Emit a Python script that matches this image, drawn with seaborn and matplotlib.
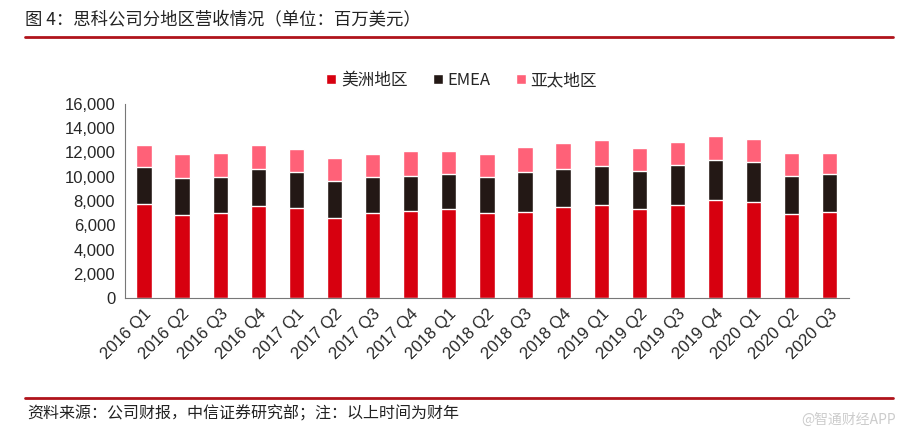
import matplotlib
matplotlib.use("Agg")
from matplotlib import pyplot as plt
import pandas as pd
import seaborn as sns

quarters = ["2016 Q1", "2016 Q2", "2016 Q3", "2016 Q4",
            "2017 Q1", "2017 Q2", "2017 Q3", "2017 Q4",
            "2018 Q1", "2018 Q2", "2018 Q3", "2018 Q4",
            "2019 Q1", "2019 Q2", "2019 Q3", "2019 Q4",
            "2020 Q1", "2020 Q2", "2020 Q3"]
americas = [7790, 6880, 7040, 7620, 7400, 6630, 7010, 7180, 7320, 6990,
            7130, 7540, 7700, 7320, 7650, 8120, 7950, 6960, 7070]
emea = [3010, 3050, 2940, 3050, 2970, 3020, 2940, 2860, 2880, 2990,
        3260, 3100, 3190, 3190, 3320, 3240, 3240, 3110, 3160]
apjc = [1850, 1950, 1980, 1920, 1950, 1870, 1960, 2060, 1900, 1870,
        2040, 2140, 2140, 1890, 1930, 2030, 1930, 1890, 1700]
series_names = ["美洲地区", "EMEA", "亚太地区"]
colors = ["#D7000F", "#231815", "#FF6178"]

df = pd.DataFrame({"quarter": quarters, "am": americas, "emea": emea, "apjc": apjc})
df["lvl1"] = df["am"]
df["lvl2"] = df["am"] + df["emea"]
df["lvl3"] = df["lvl2"] + df["apjc"]

sns.set_style("white")
plt.rcParams["font.family"] = ["Liberation Sans", "Noto Sans CJK SC", "DejaVu Sans"]
cjk = ["Noto Sans CJK SC", "DejaVu Sans"]

fig = plt.figure(figsize=(9.05, 4.4), dpi=100)
ax = fig.add_axes([0.138, 0.3227, 0.8, 0.441])

# stacked bars: draw cumulative totals from the top down
for col, c, name in zip(["lvl3", "lvl2", "lvl1"], colors[::-1], series_names[::-1]):
    sns.barplot(data=df, x="quarter", y=col, color=c, width=0.4, ax=ax,
                saturation=1, label=name)

ax.set_ylim(0, 16000)
ax.set_xlim(-0.5, len(quarters) - 0.5)
ax.set_yticks(range(0, 16001, 2000))
ax.set_yticklabels([f"{v:,}" for v in range(0, 16001, 2000)], fontsize=12)
ax.set_xlabel("")
ax.set_ylabel("")
ax.set_xticks(range(len(quarters)))
ax.set_xticklabels(quarters, rotation=45, ha="right", rotation_mode="anchor", fontsize=12)
ax.tick_params(axis="x", length=0, pad=6)
ax.set_xticks([i - 0.5 for i in range(len(quarters) + 1)], minor=True)
ax.tick_params(axis="x", which="minor", length=5, direction="out", color="#555555")
ax.tick_params(axis="y", length=4, direction="out", color="#555555", pad=3)
for s in ["top", "right"]:
    ax.spines[s].set_visible(False)
for s in ["left", "bottom"]:
    ax.spines[s].set_color("#777777")
ax.grid(False)

handles, labels = ax.get_legend_handles_labels()
order = [2, 1, 0]
ax.legend([handles[i] for i in order], [labels[i] for i in order],
          loc="lower center", bbox_to_anchor=(0.465, 1.0), ncol=3, frameon=False,
          handlelength=0.6, handleheight=0.6, handletextpad=0.3, columnspacing=1.5,
          prop={"family": cjk, "size": 12})

fig.text(0.028, 0.957, "图 4：思科公司分地区营收情况（单位：百万美元）", fontsize=12.5,
         family=cjk, va="center", ha="left", color="#222222")
fig.add_artist(plt.Line2D([0.028, 0.987], [0.915, 0.915], color="#B0131B", lw=2))
fig.add_artist(plt.Line2D([0.028, 0.987], [0.095, 0.095], color="#B0131B", lw=2))
fig.text(0.03, 0.06, "资料来源：公司财报，中信证券研究部；注：以上时间为财年", fontsize=11.5,
         family=cjk, va="center", ha="left", color="#222222")
fig.text(0.99, 0.045, "@智通财经APP", fontsize=10, family=cjk, va="center", ha="right",
         color="#cccccc")

fig.savefig("out.png", dpi=100)
